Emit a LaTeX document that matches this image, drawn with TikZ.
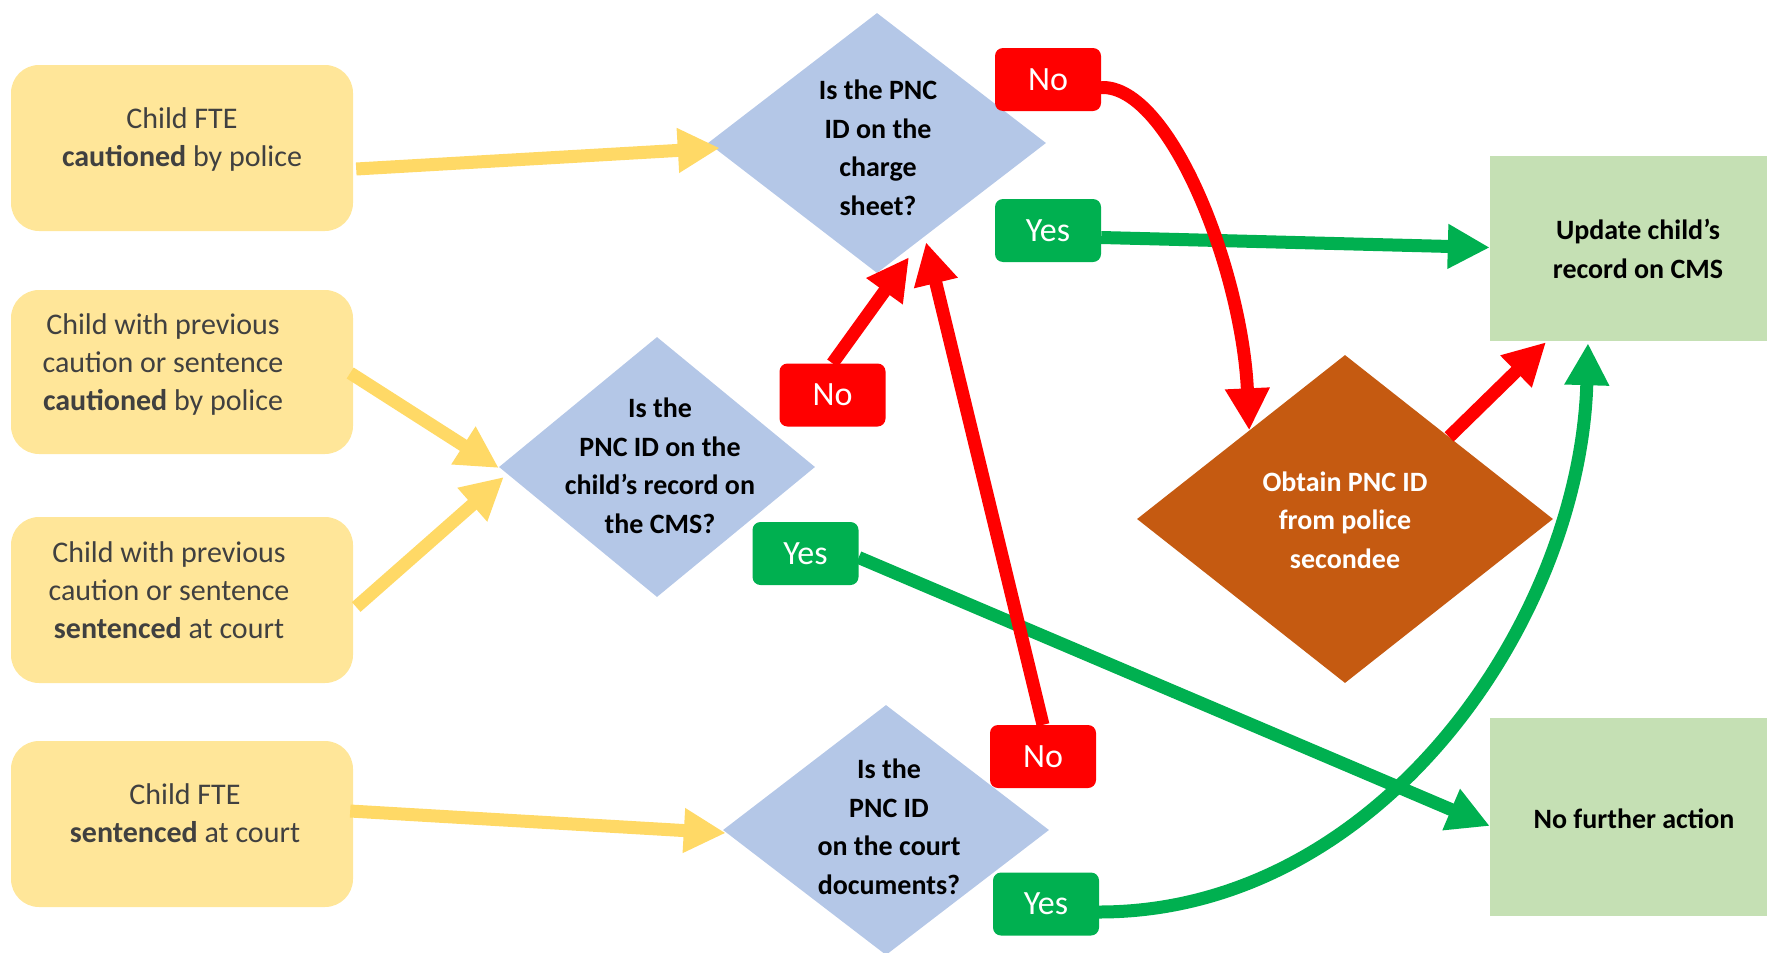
\documentclass[tikz,border=0pt]{standalone}
\usepackage{fontspec}
\setmainfont{Carlito}
\usetikzlibrary{shapes.geometric,arrows.meta,calc}
\definecolor{cYbox}{HTML}{FFE699}
\definecolor{cYarr}{HTML}{FFD966}
\definecolor{cBlue}{HTML}{B4C7E7}
\definecolor{cBrown}{HTML}{C55A11}
\definecolor{cGbox}{HTML}{C5E0B4}
\definecolor{cRed}{HTML}{FF0000}
\definecolor{cGreen}{HTML}{00B050}
\begin{document}
\begin{tikzpicture}[x=1pt,y=-1pt,
  ybox/.style={rectangle,rounded corners=28pt,fill=cYbox,minimum width=342pt,minimum height=166pt,inner sep=0pt},
  ytext/.style={align=center,text=black!75,font=\fontsize{30}{38}\selectfont,inner sep=0pt},
  qdia/.style={diamond,fill=cBlue,inner sep=0pt},
  qtext/.style={align=center,text=black,font=\bfseries\fontsize{28}{38.5}\selectfont,inner sep=0pt},
  gbox/.style={rectangle,fill=cGbox,inner sep=0pt},
  nolab/.style={rectangle,rounded corners=8pt,fill=cRed,text=white,minimum width=106pt,minimum height=63pt,inner sep=0pt,font=\fontsize{34}{40}\selectfont},
  yeslab/.style={nolab,fill=cGreen},
  tip/.style={-{Triangle[length=42pt,width=42pt]}},
  yarrow/.style={draw=cYarr,line width=13pt,tip},
  rarrow/.style={draw=cRed,line width=13pt,tip},
  garrow/.style={draw=cGreen,line width=13pt,tip}]
\useasboundingbox (0,0) rectangle (1767,953);

% input boxes
\node[ybox] (b1) at (182,148) {};
\node[ybox,minimum height=164pt] (b2) at (182,372) {};
\node[ybox] (b3) at (182,600) {};
\node[ybox] (b4) at (182,824) {};
\node[ytext] (t1) at (182,140) {Child FTE\\\textbf{cautioned} by police};
\node[ytext] (t2) at (163,364) {Child with previous\\caution or sentence\\\textbf{cautioned} by police};
\node[ytext] (t3) at (169,590) {Child with previous\\caution or sentence\\\textbf{sentenced} at court};
\node[ytext] (t4) at (185,813) {Child FTE\\\textbf{sentenced} at court};

% decisions
\node[qdia,minimum width=338pt,minimum height=260pt] (d1) at (877,143) {};
\node[qdia,minimum width=316pt,minimum height=260pt] (d2) at (657,467) {};
\node[qdia,minimum width=326pt,minimum height=250pt] (d3) at (886,830) {};
\node[diamond,fill=cBrown,inner sep=0pt,minimum width=416pt,minimum height=328pt] (br) at (1345,519) {};
\node[qtext] (q1) at (878,148) {Is the PNC\\ID on the\\charge\\sheet?};
\node[qtext] (q2) at (660,466) {Is the\\PNC ID on the\\child’s record on\\the CMS?};
\node[qtext] (q3) at (889,827) {Is the\\PNC ID\\on the court\\documents?};
\node[qtext,text=white] (q4) at (1345,520) {Obtain PNC ID\\from police\\secondee};

% outcomes
\node[gbox,minimum width=302pt,minimum height=185pt] (g1) at (1641,248.5) {};
\node[qtext] (o1) at (1638,249) {Update child’s\\record on CMS};
\node[gbox,minimum width=296pt,minimum height=198pt] (g2) at (1638,817) {};
\node[qtext] (o2) at (1634,819) {No further action};

% yes / no labels
\node[nolab] (n1) at (1048,79.5) {No};
\node[yeslab] (y1) at (1048,230.5) {Yes};
\node[nolab] (n2) at (832.5,395) {No};
\node[yeslab] (y2) at (805.5,553.5) {Yes};
\node[nolab] (n3) at (1043,756.5) {No};
\node[yeslab] (y3) at (1046,904) {Yes};

% yellow arrows
\draw[yarrow] ($(b1.east)+(3,21)$) -- ($(d1.west)+(12,5)$);
\draw[yarrow] ($(b2.east)+(-3,1)$) -- ($(d2.west)+(0,1)$);
\draw[yarrow] ($(b3.east)+(3,7)$) -- ($(d2.west)+(5,10)$);
\draw[yarrow] ($(b4.east)+(-3,-13)$) -- ($(d3.west)+(3,3)$);

% green arrows
\draw[garrow] ($(y1.east)+(0,7)$) -- ($(g1.west)+(0,-1)$);
\draw[garrow] ($(y2.east)+(0,4)$) -- ($(g2.west)+(0,9)$);
\draw[garrow] ($(y3.east)+(0,8)$) .. controls (1380,912) and (1580,620) .. ($(g1.south)+(-53,2)$);

% red arrows
\draw[rarrow] ($(n1.east)+(0,8)$) .. controls (1170,85) and (1242,270) .. ($(br.north)!0.46!(br.west)$);
\draw[rarrow] ($(br.north)!0.5!(br.east)$) -- ($(g1.south)+(-95,1)$);
\draw[rarrow] (n2.north) -- ($(d1.south)+(32,-16)$);
\draw[rarrow] (n3.north) -- ($(d1.south)+(49,-31)$);
\end{tikzpicture}
\end{document}
